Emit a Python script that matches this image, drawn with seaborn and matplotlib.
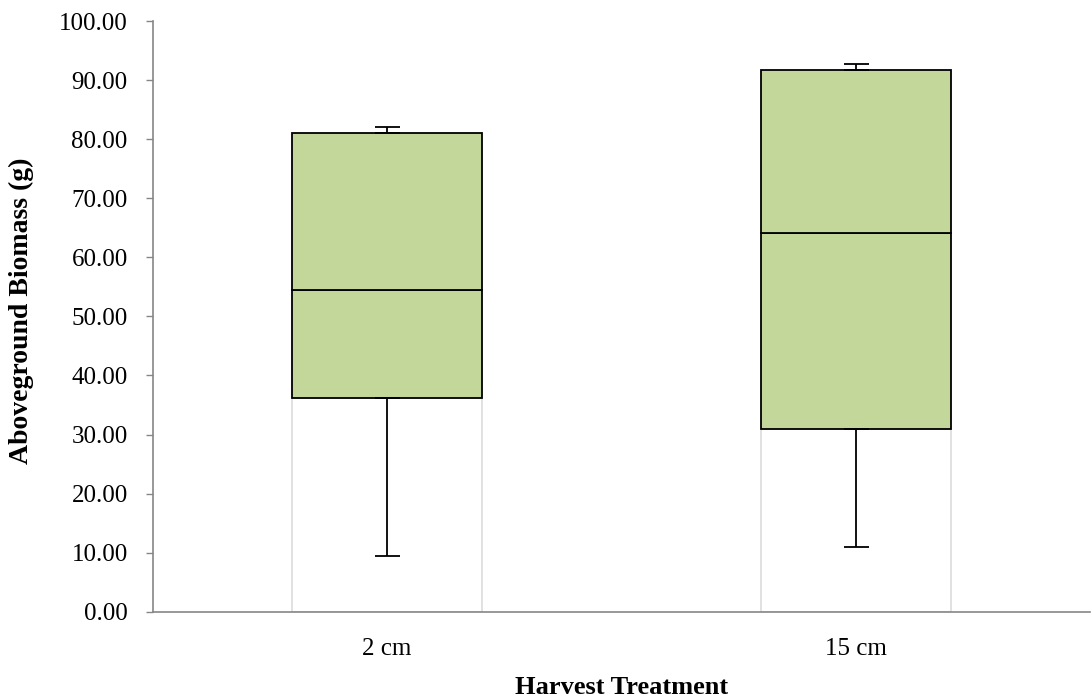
import numpy as np
import pandas as pd
import matplotlib
matplotlib.use("Agg")
import matplotlib.pyplot as plt
import seaborn as sns

# box statistics
treatments = ["2 cm", "15 cm"]
whisker_low = [9.5, 11.0]
q1 = [36.2, 31.0]
median = [54.5, 64.1]
q3 = [81.1, 91.7]
whisker_high = [82.1, 92.7]

df = pd.DataFrame({"treatment": treatments, "low": whisker_low, "q1": q1,
                   "median": median, "q3": q3, "high": whisker_high})
df["lower_box"] = df["median"] - df["q1"]
df["upper_box"] = df["q3"] - df["median"]

sns.set_style("white")
plt.rcParams["font.family"] = ["Liberation Serif", "DejaVu Serif"]
plt.rcParams["text.color"] = "black"
plt.rcParams["axes.labelcolor"] = "black"
plt.rcParams["xtick.color"] = "black"
plt.rcParams["ytick.color"] = "black"

fig = plt.figure(figsize=(10.91, 7.0), dpi=100)
ax = fig.add_axes([0.140, 0.126, 0.859, 0.844])

green = "#c4d79b"
w = 0.405
# white base up to Q1
sns.barplot(data=df, x="treatment", y="q1", ax=ax, color="white", width=w,
            edgecolor="#dcdcdc", linewidth=1.2, saturation=1)
# lower and upper halves of the box
sns.barplot(data=df, x="treatment", y="lower_box", ax=ax, color=green, width=w,
            bottom=df["q1"].values, edgecolor="black", linewidth=1.3, saturation=1)
sns.barplot(data=df, x="treatment", y="upper_box", ax=ax, color=green, width=w,
            bottom=df["median"].values, edgecolor="black", linewidth=1.3, saturation=1)

# whiskers
xs = np.arange(len(df))
ax.errorbar(xs, df["q1"], yerr=[df["q1"] - df["low"], np.zeros(len(df))],
            fmt="none", ecolor="black", elinewidth=1.3, capsize=9, capthick=1.3, zorder=3)
ax.errorbar(xs, df["q3"], yerr=[np.zeros(len(df)), df["high"] - df["q3"]],
            fmt="none", ecolor="black", elinewidth=1.3, capsize=9, capthick=1.3, zorder=3)

ax.set_xlim(-0.5, 1.5)
ax.set_ylim(0, 100)
ax.set_yticks(np.arange(0, 101, 10))
ax.set_yticklabels([f"{v:.2f}" for v in np.arange(0, 101, 10)], fontsize=18)
ax.set_xticks(xs)
ax.set_xticklabels(treatments, fontsize=18)
ax.set_xticks([-0.5, 0.5, 1.5], minor=True)
ax.tick_params(axis="x", which="major", length=0, pad=19)
ax.tick_params(axis="x", which="minor", length=5, width=1, color="#868686", direction="out")
ax.tick_params(axis="y", length=5, width=1, color="#868686", labelcolor="black",
               direction="out", pad=13, left=True)

for side in ["top", "right"]:
    ax.spines[side].set_visible(False)
for side in ["left", "bottom"]:
    ax.spines[side].set_color("#868686")
    ax.spines[side].set_linewidth(1.2)

ax.set_xlabel("Harvest Treatment", fontsize=19, fontweight="bold")
ax.set_ylabel("Aboveground Biomass (g)", fontsize=20, fontweight="bold")
ax.xaxis.set_label_coords(0.5, -0.109)
ax.yaxis.set_label_coords(-0.127, 0.51)

fig.savefig("out.png", dpi=100)
